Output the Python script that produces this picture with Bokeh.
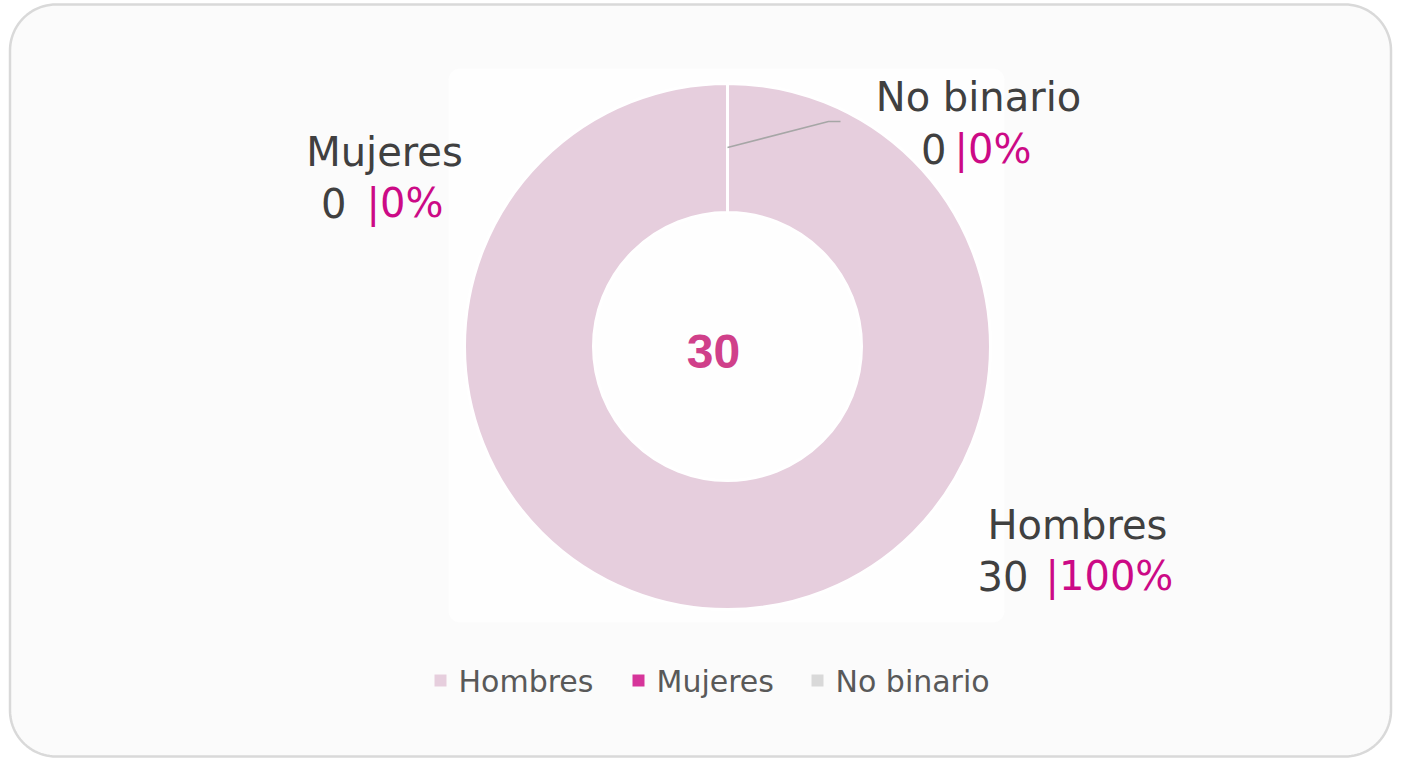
import numpy as np
from bokeh.plotting import figure
from bokeh.models import Range1d
from bokeh.core.properties import value
from bokeh.embed import file_html
from bokeh.resources import INLINE

# ---- data ----
categories = ["Hombres", "Mujeres", "No binario"]
counts = [30, 0, 0]
colors = ["#e6cedd", "#d6359a", "#d9d9d9"]

total = sum(counts)
percents = [round(100 * c / total) if total else 0 for c in counts]

W, H = 1393, 759
def Y(p):  # picture y -> data y
    return H - p

p = figure(width=W, height=H, x_range=Range1d(0, W), y_range=Range1d(0, H),
           output_backend="svg", toolbar_location=None, min_border=0)
p.axis.visible = False
p.grid.visible = False
p.outline_line_color = None
p.background_fill_color = "white"
p.border_fill_color = "white"

def rounded(x0, y0, x1, y1, r, n=24):
    xs, ys = [], []
    corners = [(x1 - r, y0 + r, -90, 0), (x1 - r, y1 - r, 0, 90),
               (x0 + r, y1 - r, 90, 180), (x0 + r, y0 + r, 180, 270)]
    for cx, cy, a0, a1 in corners:
        t = np.radians(np.linspace(a0, a1, n))
        xs.extend(cx + r * np.cos(t))
        ys.extend(Y(cy + r * np.sin(t)))
    return xs, ys

bx, by = rounded(9.5, 4, 1390.5, 756, 46)
p.patch(bx, by, fill_color="#fbfbfb", line_color="#d9d9d9", line_width=2.5)
ix, iy = rounded(448, 68, 1004, 622, 12)
p.patch(ix, iy, fill_color="#fefefe", line_color=None)

# ---- donut ----
cx, cy = 727, 346
r_in, r_out = 134, 263
fr = np.array(counts, dtype=float) / total
cum = np.concatenate([[0], np.cumsum(fr)])
starts = np.pi / 2 - 2 * np.pi * cum[:-1]
ends = np.pi / 2 - 2 * np.pi * cum[1:]
nz = [i for i, c in enumerate(counts) if c > 0]
p.annular_wedge(x=[cx] * len(nz), y=[Y(cy)] * len(nz),
                inner_radius=r_in, outer_radius=r_out,
                start_angle=[starts[i] for i in nz], end_angle=[ends[i] for i in nz],
                direction="clock",
                fill_color=[colors[i] for i in nz], line_color="white", line_width=3)

# center total
p.text(x=[713], y=[Y(351)], text=[str(total)], text_font=value("Liberation Sans"),
       text_font_style="bold", text_font_size="48px", text_color="#d0408a",
       text_align="center", text_baseline="middle")

# leader line
p.line(x=[727, 828, 840], y=[Y(147), Y(121), Y(121)], line_color="#a6a6a6", line_width=1.5)

# ---- data labels ----
font = value("DejaVu Sans")
gray = "#404040"
mag = "#cc0a86"
lab_pos = {  # name center x, name baseline, number right x, bar left x, 2nd baseline
    "Hombres": (1077, 524, 1028, 1045, 575),
    "Mujeres": (384, 151, 346, 366, 202),
    "No binario": (978, 96, 946, 954, 148),
}
for cat, c, pc in zip(categories, counts, percents):
    nx, ny, rx, bx_, by2 = lab_pos[cat]
    p.text(x=[nx], y=[Y(ny)], text=[cat], text_font=font, text_font_size="40px",
           text_color=gray, text_align="center", text_baseline="alphabetic")
    p.text(x=[rx], y=[Y(by2)], text=[str(c)], text_font=font, text_font_size="40px",
           text_color=gray, text_align="right", text_baseline="alphabetic")
    p.text(x=[bx_], y=[Y(by2)], text=[f"|{pc}%"], text_font=font, text_font_size="40px",
           text_color=mag, text_align="left", text_baseline="alphabetic")

# ---- legend ----
leg_sq_x = [440, 638, 817]
for cat, col, sx in zip(categories, colors, leg_sq_x):
    p.rect(x=[sx], y=[Y(680)], width=12, height=12, fill_color=col, line_color=None)
    p.text(x=[sx + 18], y=[Y(681)], text=[cat], text_font=font, text_font_size="30px",
           text_color="#595959", text_align="left", text_baseline="middle")

open("out.html", "w").write(file_html(p, INLINE))
